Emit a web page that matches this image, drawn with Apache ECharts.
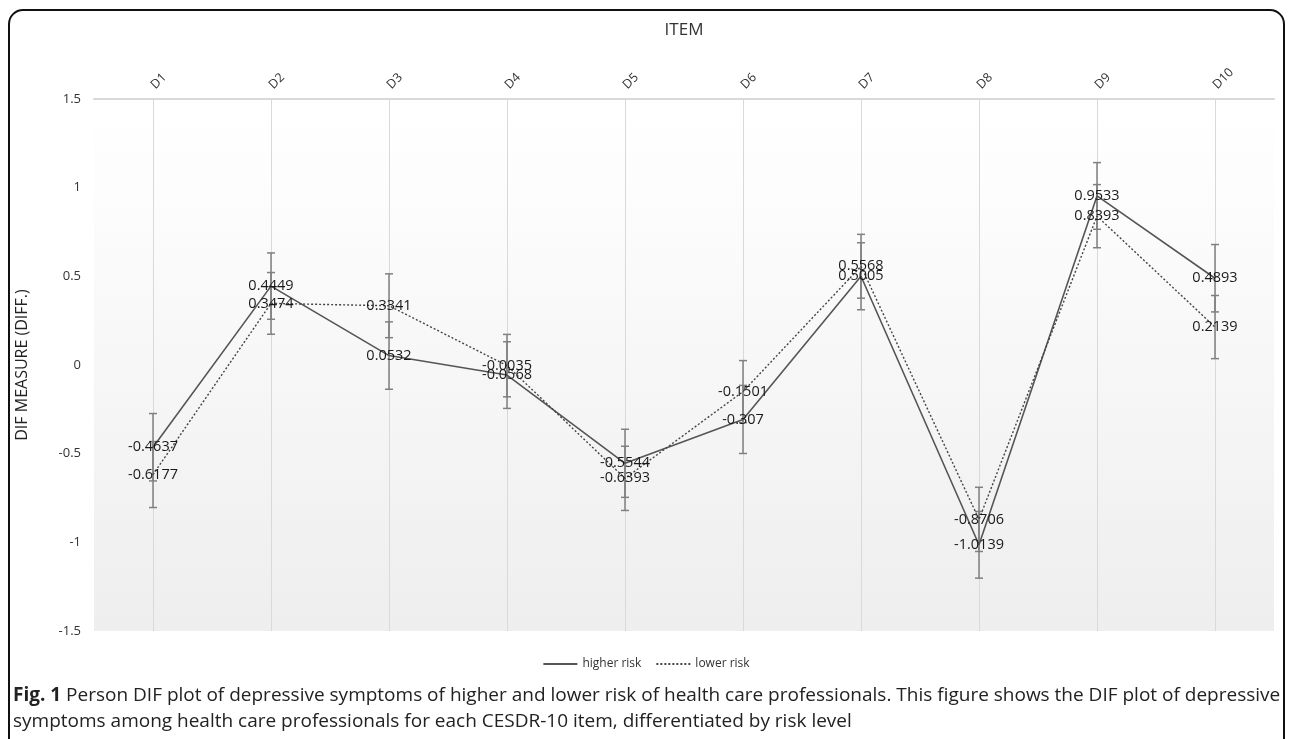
<!DOCTYPE html>
<html>
<head>
<meta charset="utf-8">
<script src="https://cdn.jsdelivr.net/npm/echarts@6/dist/echarts.min.js"></script>
<style>
html,body{margin:0;padding:0;background:#fff;}
#c{width:1292px;height:739px;}
</style>
</head>
<body>
<div id="c"></div>
<script>
const categories = ['D1','D2','D3','D4','D5','D6','D7','D8','D9','D10'];
const higherRisk = [-0.4637, 0.4449, 0.0532, -0.0568, -0.5544, -0.307, 0.5005, -1.0139, 0.9533, 0.4893];
const lowerRisk  = [-0.6177, 0.3474, 0.3341, -0.0035, -0.6393, -0.1501, 0.5568, -0.8706, 0.8393, 0.2139];
const higherErr  = [0.19, 0.187, 0.19, 0.188, 0.192, 0.192, 0.189, 0.188, 0.188, 0.19];
const lowerErr   = [0.186, 0.174, 0.18, 0.176, 0.181, 0.175, 0.18, 0.181, 0.178, 0.178];
const yTicks = [-1.5, -1, -0.5, 0, 0.5, 1, 1.5];

const chart = echarts.init(document.getElementById('c'), null, {renderer: 'canvas'});

function errData(vals, errs) {
  return vals.map((v, i) => [i, v, errs[i]]);
}
function renderErr(params, api) {
  const x = api.value(0), y = api.value(1), e = api.value(2);
  const top = api.coord([x, y + e]);
  const bot = api.coord([x, y - e]);
  const w = 4;
  const style = {stroke: '#808080', lineWidth: 1.5, fill: null};
  return {
    type: 'group',
    children: [
      {type: 'line', shape: {x1: top[0], y1: top[1], x2: bot[0], y2: bot[1]}, style: style},
      {type: 'line', shape: {x1: top[0] - w, y1: top[1], x2: top[0] + w, y2: top[1]}, style: style},
      {type: 'line', shape: {x1: bot[0] - w, y1: bot[1], x2: bot[0] + w, y2: bot[1]}, style: style}
    ]
  };
}

const labelStyle = {
  show: true,
  position: 'inside',
  color: '#1a1a1a',
  fontSize: 14.5,
  fontFamily: 'Open Sans',
  formatter: p => String(p.value)
};

const option = {
  backgroundColor: '#fff',
  animation: false,
  textStyle: {fontFamily: 'Open Sans'},
  grid: {
    left: 94, right: 18, top: 99, bottom: 108,
    show: true, borderWidth: 0,
    backgroundColor: new echarts.graphic.LinearGradient(0, 0, 0, 1, [
      {offset: 0, color: '#ffffff'},
      {offset: 0.15, color: '#fdfdfd'},
      {offset: 1, color: '#eeeeee'}
    ])
  },
  legend: {
    bottom: 64,
    left: 'center',
    itemWidth: 34,
    itemHeight: 10,
    itemGap: 14,
    data: ['higher risk', 'lower risk'],
    itemStyle: {opacity: 0},
    textStyle: {fontSize: 12, color: '#333', fontFamily: 'Open Sans'}
  },
  xAxis: {
    type: 'category',
    position: 'top',
    data: categories,
    boundaryGap: true,
    name: 'ITEM',
    nameLocation: 'middle',
    nameGap: 60,
    nameTextStyle: {fontSize: 17, color: '#333', fontFamily: 'Open Sans'},
    axisLine: {show: true, onZero: false, lineStyle: {color: '#d9d9d9', width: 2}},
    axisTick: {show: false, alignWithLabel: true},
    axisLabel: {rotate: -45, color: '#333', fontSize: 12.5, margin: 12, fontFamily: 'Open Sans'},
    splitLine: {show: true, alignWithLabel: true, lineStyle: {color: '#d9d9d9', width: 1}}
  },
  yAxis: {
    type: 'value',
    min: yTicks[0],
    max: yTicks[yTicks.length - 1],
    interval: 0.5,
    name: 'DIF MEASURE (DIFF.)',
    nameLocation: 'middle',
    nameGap: 64,
    nameTextStyle: {fontSize: 16, color: '#222', fontFamily: 'Open Sans'},
    axisLine: {show: false},
    axisTick: {show: false},
    splitLine: {show: false},
    axisLabel: {color: '#333', fontSize: 13, margin: 13, fontFamily: 'Open Sans'}
  },
  series: [
    {
      name: 'errHigher', type: 'custom', renderItem: renderErr,
      data: errData(higherRisk, higherErr), encode: {x: 0, y: 1}, z: 1, silent: true
    },
    {
      name: 'errLower', type: 'custom', renderItem: renderErr,
      data: errData(lowerRisk, lowerErr), encode: {x: 0, y: 1}, z: 1, silent: true
    },
    {
      name: 'higher risk', type: 'line', data: higherRisk,
      symbol: 'circle', symbolSize: 0.01, showSymbol: true,
      lineStyle: {color: '#555', width: 1.6, type: 'solid'},
      itemStyle: {color: '#555'},
      label: labelStyle, z: 3
    },
    {
      name: 'lower risk', type: 'line', data: lowerRisk,
      symbol: 'circle', symbolSize: 0.01, showSymbol: true,
      lineStyle: {color: '#444', width: 1.4, type: [2, 2]},
      itemStyle: {color: '#444'},
      label: labelStyle, z: 3
    }
  ],
  graphic: [
    {
      type: 'rect',
      shape: {x: 9, y: 10, width: 1275, height: 760, r: 14},
      style: {fill: null, stroke: '#111', lineWidth: 2},
      silent: true
    },
    {
      type: 'text',
      left: 13, top: 683,
      style: {
        text: '{b|Fig. 1} Person DIF plot of depressive symptoms of higher and lower risk of health care professionals. This figure shows the DIF plot of depressive\nsymptoms among health care professionals for each CESDR-10 item, differentiated by risk level',
        fontSize: 19,
        lineHeight: 26,
        fill: '#222',
        fontFamily: 'Open Sans',
        rich: {
          b: {fontWeight: 'bold', fontSize: 19, fill: '#222', fontFamily: 'Open Sans'}
        }
      }
    }
  ]
};
chart.setOption(option);
</script>
</body>
</html>
